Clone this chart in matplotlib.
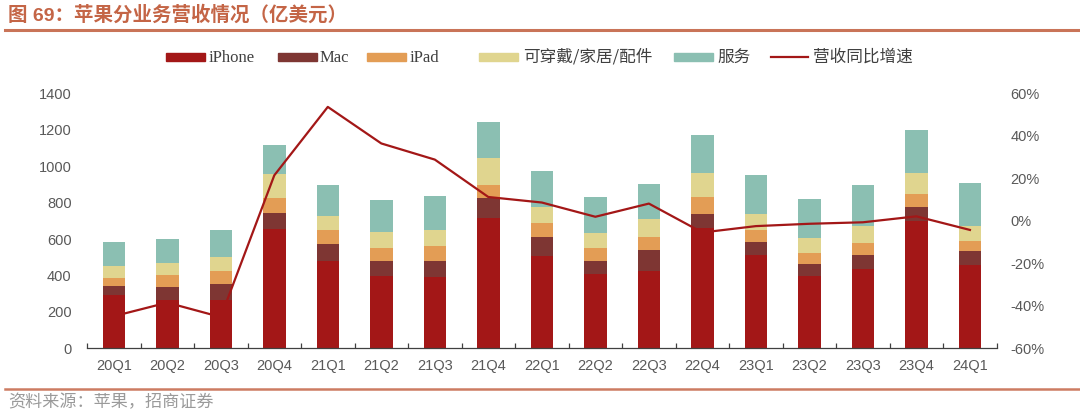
import matplotlib
matplotlib.use("Agg")
import matplotlib.pyplot as plt
import numpy as np
from matplotlib.patches import Rectangle
from matplotlib.lines import Line2D
from matplotlib.ticker import FixedLocator, FuncFormatter

plt.rcParams['font.family'] = ['Liberation Sans', 'Noto Sans CJK SC', 'DejaVu Sans']

quarters = ['20Q1', '20Q2', '20Q3', '20Q4', '21Q1', '21Q2', '21Q3', '21Q4',
            '22Q1', '22Q2', '22Q3', '22Q4', '23Q1', '23Q2', '23Q3', '23Q4', '24Q1']
iphone = [290, 264, 264, 656, 479, 396, 389, 716, 506, 407, 426, 658, 513, 397, 438, 697, 460]
mac = [54, 71, 90, 87, 91, 82, 92, 109, 104, 74, 115, 77, 72, 68, 76, 78, 75]
ipad = [44, 66, 68, 84, 78, 74, 83, 73, 77, 72, 72, 94, 67, 58, 64, 70, 56]
wearables = [63, 65, 79, 130, 78, 88, 88, 147, 88, 81, 97, 135, 88, 83, 93, 120, 79]
services = [134, 132, 146, 158, 169, 175, 183, 195, 198, 196, 192, 208, 209, 212, 223, 231, 239]
yoy = [-44.9, -38.5, -45.3, 21.4, 53.6, 36.4, 28.8, 11.2, 8.6, 1.9, 8.1, -5.5, -2.5, -1.4, -0.7, 2.1, -4.3]

series_names = ['iPhone', 'Mac', 'iPad', '可穿戴/家居/配件', '服务']
line_name = '营收同比增速'
left_ticks = [0, 200, 400, 600, 800, 1000, 1200, 1400]
right_ticks = [-60, -40, -20, 0, 20, 40, 60]
title = '图 69：苹果分业务营收情况（亿美元）'
source = '资料来源：苹果，招商证券'

colors = ['#A31717', '#7E3633', '#E39D55', '#E0D58F', '#8BBFB2']
line_color = '#A31717'
accent = '#C46546'
tick_color = '#595959'

fig = plt.figure(figsize=(10.8, 4.15), dpi=100)
ax = fig.add_axes([87 / 1080, 1 - 348.3 / 415, (996.7 - 87) / 1080, (348.3 - 93.3) / 415])

x = np.arange(len(quarters))
stack = [iphone, mac, ipad, wearables, services]
bottom = np.zeros(len(quarters))
for vals, c in zip(stack, colors):
    ax.bar(x, vals, width=0.42, bottom=bottom, color=c, zorder=2, linewidth=0)
    bottom += np.array(vals)

ax.set_xlim(-0.5, len(quarters) - 0.5)
ax.set_ylim(0, 1400)
ax.yaxis.set_major_locator(FixedLocator(left_ticks))
ax.set_xticks(x)
ax.set_xticklabels(quarters)
ax.xaxis.set_minor_locator(FixedLocator(np.arange(-0.5, len(quarters), 1.0)))
ax.tick_params(axis='x', which='major', length=0, pad=8, labelsize=10.5, labelcolor=tick_color)
ax.tick_params(axis='x', which='minor', length=3.5, direction='in', color='#404040', width=0.9)
ax.tick_params(axis='y', length=0, pad=11, labelsize=10.5, labelcolor=tick_color)
for s in ['top', 'right', 'left']:
    ax.spines[s].set_visible(False)
ax.spines['bottom'].set_color('#404040')
ax.spines['bottom'].set_linewidth(0.9)
ax.spines['bottom'].set_zorder(3)

ax2 = ax.twinx()
ax2.plot(x, yoy, color=line_color, linewidth=1.6, zorder=5)
ax2.set_ylim(-60, 60)
ax2.yaxis.set_major_locator(FixedLocator(right_ticks))
ax2.yaxis.set_major_formatter(FuncFormatter(lambda v, p: f'{int(v)}%'))
ax2.tick_params(axis='y', length=0, pad=10, labelsize=10.5, labelcolor=tick_color)
for s in ['top', 'right', 'left', 'bottom']:
    ax2.spines[s].set_visible(False)

# Title and rules
fig.text(8 / 1080, 1 - 15 / 415, title, fontsize=14, fontweight='bold', color=accent,
         va='center', ha='left', family=['Liberation Sans', 'Noto Sans CJK SC'])
fig.add_artist(Line2D([5 / 1080, 1.0], [1 - 30.5 / 415] * 2, color=accent, lw=2.2, alpha=0.9))
fig.add_artist(Line2D([5 / 1080, 1.0], [1 - 388.5 / 415] * 2, color=accent, lw=1.8, alpha=0.85))
fig.text(8 / 1080, 1 - 402 / 415, source, fontsize=12.3, color='#9a9a9a', va='center', ha='left',
         family=['Noto Sans CJK SC'])

# Legend (manual placement)
ly = 1 - 57.5 / 415
patch_x = [166, 278, 367, 479, 674]
text_x = [209, 320, 410, 523, 717]
fams = [['Liberation Serif'], ['Liberation Serif'], ['Liberation Serif'],
        ['Noto Sans CJK SC'], ['Noto Sans CJK SC']]
for px, tx, name, c, fam in zip(patch_x, text_x, series_names, colors, fams):
    fig.add_artist(Rectangle((px / 1080, ly - 4 / 415), 39 / 1080, 8 / 415, color=c,
                             transform=fig.transFigure))
    fig.text(tx / 1080, ly, name, fontsize=12, color='#404040', va='center', ha='left', family=fam)
fig.add_artist(Line2D([771 / 1080, 808 / 1080], [ly, ly], color=line_color, lw=1.6))
fig.text(813 / 1080, ly, line_name, fontsize=12, color='#404040', va='center', ha='left',
         family=['Noto Sans CJK SC'])

fig.savefig('out.png', dpi=100)
